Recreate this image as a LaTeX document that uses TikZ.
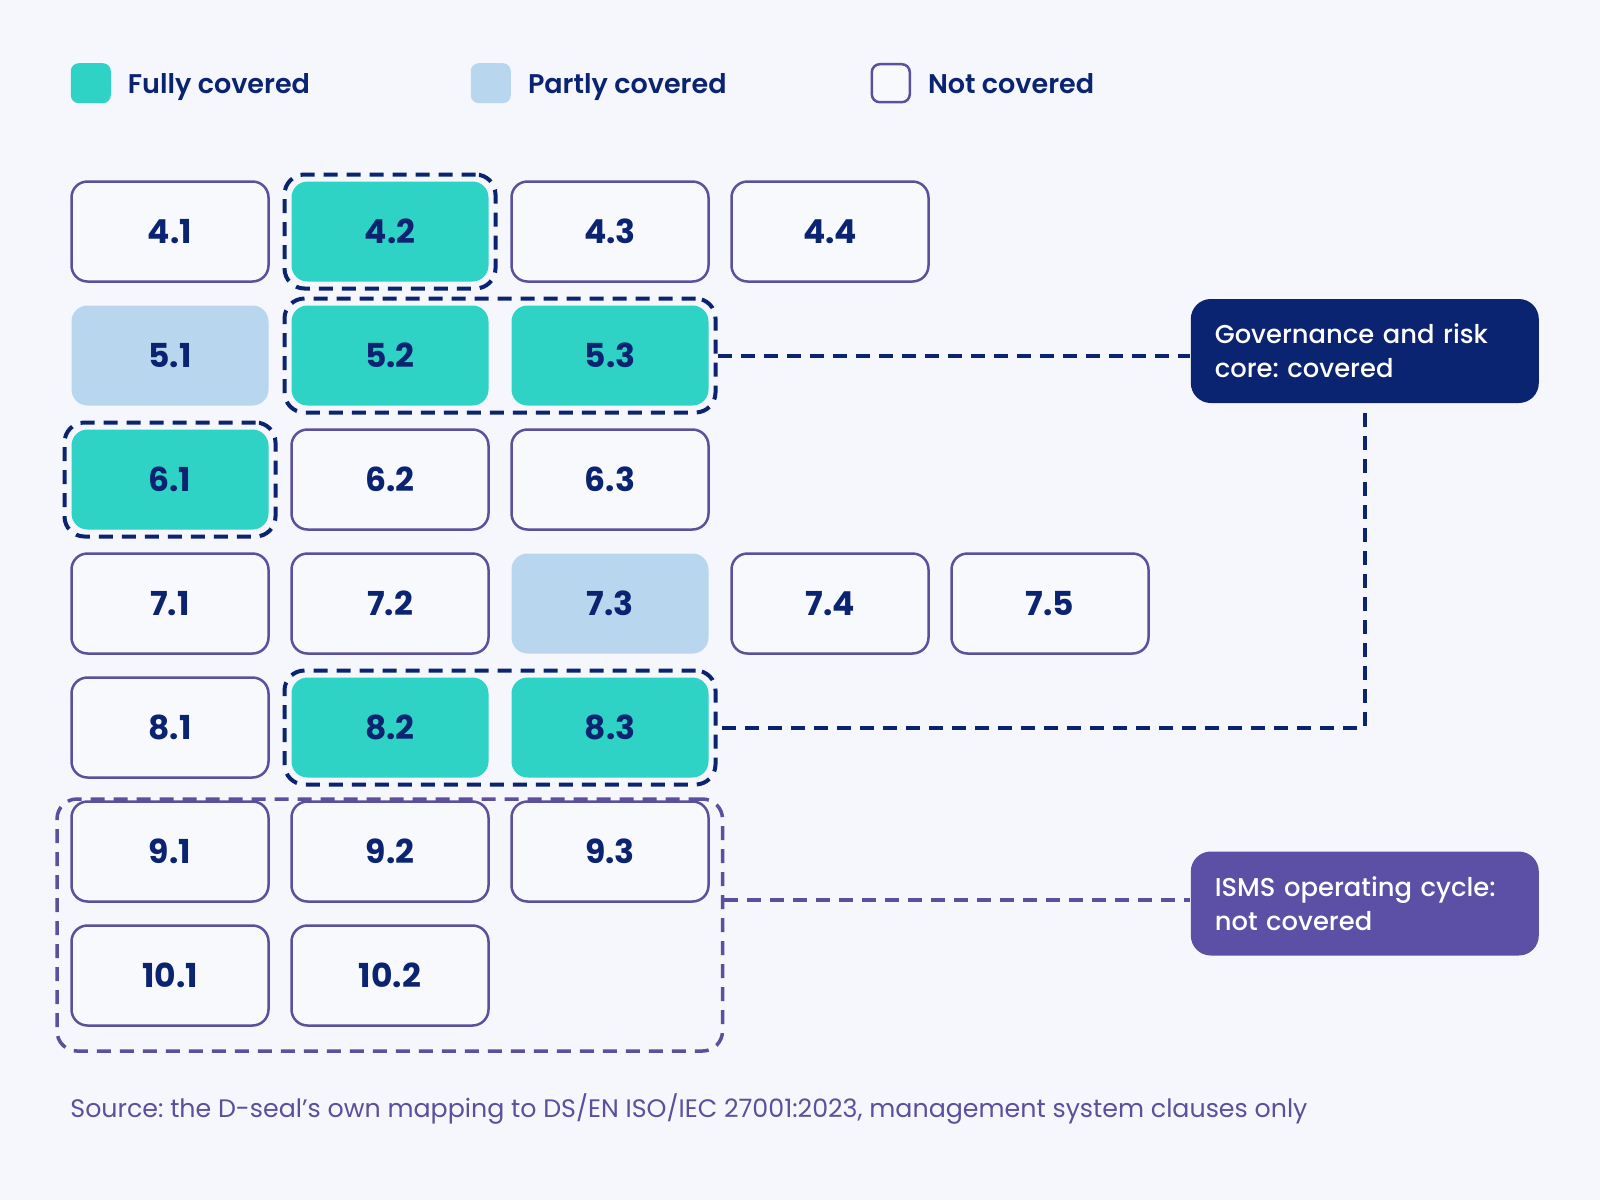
\documentclass[tikz,border=0pt]{standalone}
\usepackage{fontspec}
\setmainfont{Poppins}
\IfFontExistsTF{Poppins SemiBold}{\newfontfamily\fsemi{Poppins SemiBold}}{\newcommand\fsemi{\bfseries}}
\IfFontExistsTF{Poppins Medium}{\newfontfamily\fmed{Poppins Medium}}{\newcommand\fmed{\bfseries}}
\usetikzlibrary{fit,calc}
\definecolor{bg}{HTML}{F5F7FC}
\definecolor{navy}{HTML}{0B2471}
\definecolor{cteal}{HTML}{2ED3C5}
\definecolor{clight}{HTML}{B8D6EE}
\definecolor{cpurp}{HTML}{5B4F9E}
\definecolor{cpurpbox}{HTML}{5B4FA6}
\definecolor{cellbg}{HTML}{F8F9FD}
\frenchspacing
\begin{document}
\begin{tikzpicture}[x=0.5pt,y=-0.5pt,
  cell/.style={rounded corners=8pt, minimum width=98.5pt, minimum height=50pt, inner sep=0pt,
    font=\bfseries\fontsize{16.5}{18}\selectfont, text=navy},
  nocell/.style={cell, draw=cpurp, line width=1.25pt, fill=cellbg},
  fullcell/.style={cell, fill=cteal},
  partcell/.style={cell, fill=clight},
  grpnavy/.style={draw=navy, line width=2pt, dash pattern=on 7pt off 4.5pt, rounded corners=10pt, inner sep=3.3pt},
  grppurp/.style={draw=cpurp, line width=1.75pt, dash pattern=on 7pt off 4.5pt, rounded corners=10pt, inner sep=0pt},
  navydash/.style={draw=navy, line width=2pt, dash pattern=on 7pt off 4.5pt},
  purpdash/.style={draw=cpurp, line width=1.75pt, dash pattern=on 7pt off 4.5pt},
  callout/.style={rounded corners=10pt, minimum width=174pt, minimum height=52pt, text width=150pt,
    inner xsep=12pt, inner ysep=0pt, align=left, text=white, font=\fmed\fontsize{12.9}{16.85}\selectfont},
  legsq/.style={minimum size=20pt, rounded corners=4pt, inner sep=0pt},
  legtxt/.style={anchor=base west, inner sep=0pt, text=navy, font=\fsemi\fontsize{13.5}{16}\selectfont}
]
\useasboundingbox (0,0) rectangle (1600,1200);
\fill[bg] (0,0) rectangle (1600,1200);

% legend
\node[legsq, fill=cteal] (l1) at (90.8,83.2) {};
\node[legtxt] (t1) at (127.5,93) {Fully covered};
\node[legsq, fill=clight] (l2) at (490.8,83.2) {};
\node[legtxt] (t2) at (527.6,93) {Partly covered};
\node[legsq, draw=cpurp, line width=1.25pt, fill=cellbg, minimum size=19pt] (l3) at (890.8,83.2) {};
\node[legtxt] (t3) at (927.6,93) {Not covered};

% big purple group
\node[grppurp, minimum width=332.75pt, minimum height=126pt] (g9) at (389.75,925) {};

% cells
\node[nocell]   (c41) at (170,231.5) {4.1};
\node[fullcell] (c42) at (390,231.5) {4.2};
\node[nocell]   (c43) at (610,231.5) {4.3};
\node[nocell]   (c44) at (830,231.5) {4.4};

\node[partcell] (c51) at (170,355.5) {5.1};
\node[fullcell] (c52) at (390,355.5) {5.2};
\node[fullcell] (c53) at (610,355.5) {5.3};

\node[fullcell] (c61) at (170,479.5) {6.1};
\node[nocell]   (c62) at (390,479.5) {6.2};
\node[nocell]   (c63) at (610,479.5) {6.3};

\node[nocell]   (c71) at (170,603.5) {7.1};
\node[nocell]   (c72) at (390,603.5) {7.2};
\node[partcell] (c73) at (610,603.5) {7.3};
\node[nocell]   (c74) at (830,603.5) {7.4};
\node[nocell]   (c75) at (1050,603.5) {7.5};

\node[nocell]   (c81) at (170,727.5) {8.1};
\node[fullcell] (c82) at (390,727.5) {8.2};
\node[fullcell] (c83) at (610,727.5) {8.3};

\node[nocell]   (c91) at (170,851.5) {9.1};
\node[nocell]   (c92) at (390,851.5) {9.2};
\node[nocell]   (c93) at (610,851.5) {9.3};

\node[nocell]   (c101) at (170,975.5) {10.1};
\node[nocell]   (c102) at (390,975.5) {10.2};

% navy groups
\node[grpnavy, fit=(c42)] (g4) {};
\node[grpnavy, fit=(c52)(c53)] (g5) {};
\node[grpnavy, fit=(c61)] (g6) {};
\node[grpnavy, fit=(c82)(c83)] (g8) {};

% callouts
\node[callout, fill=navy] (gov) at (1364.8,351) {Governance and risk\\core: covered};
\node[callout, fill=cpurpbox] (isms) at (1364.8,903.5) {ISMS operating cycle:\\not covered};

% connectors
\draw[navydash] (g5.east) -- (g5.east -| gov.west);
\coordinate (govb) at ([yshift=-5pt]gov.south);
\draw[navydash] (govb) |- (g8.east);
\coordinate (ismsin) at ([yshift=1.75pt]isms.west);
\draw[purpdash] (ismsin -| g9.east) -- (ismsin);

% source
\node[anchor=base west, inner sep=0pt, text=cpurp, font=\fontsize{12.65}{15}\selectfont] (src) at (70,1117)
  {Source: the D-seal’s own mapping to DS/EN ISO/IEC 27001:2023, management system clauses only};
\end{tikzpicture}
\end{document}
